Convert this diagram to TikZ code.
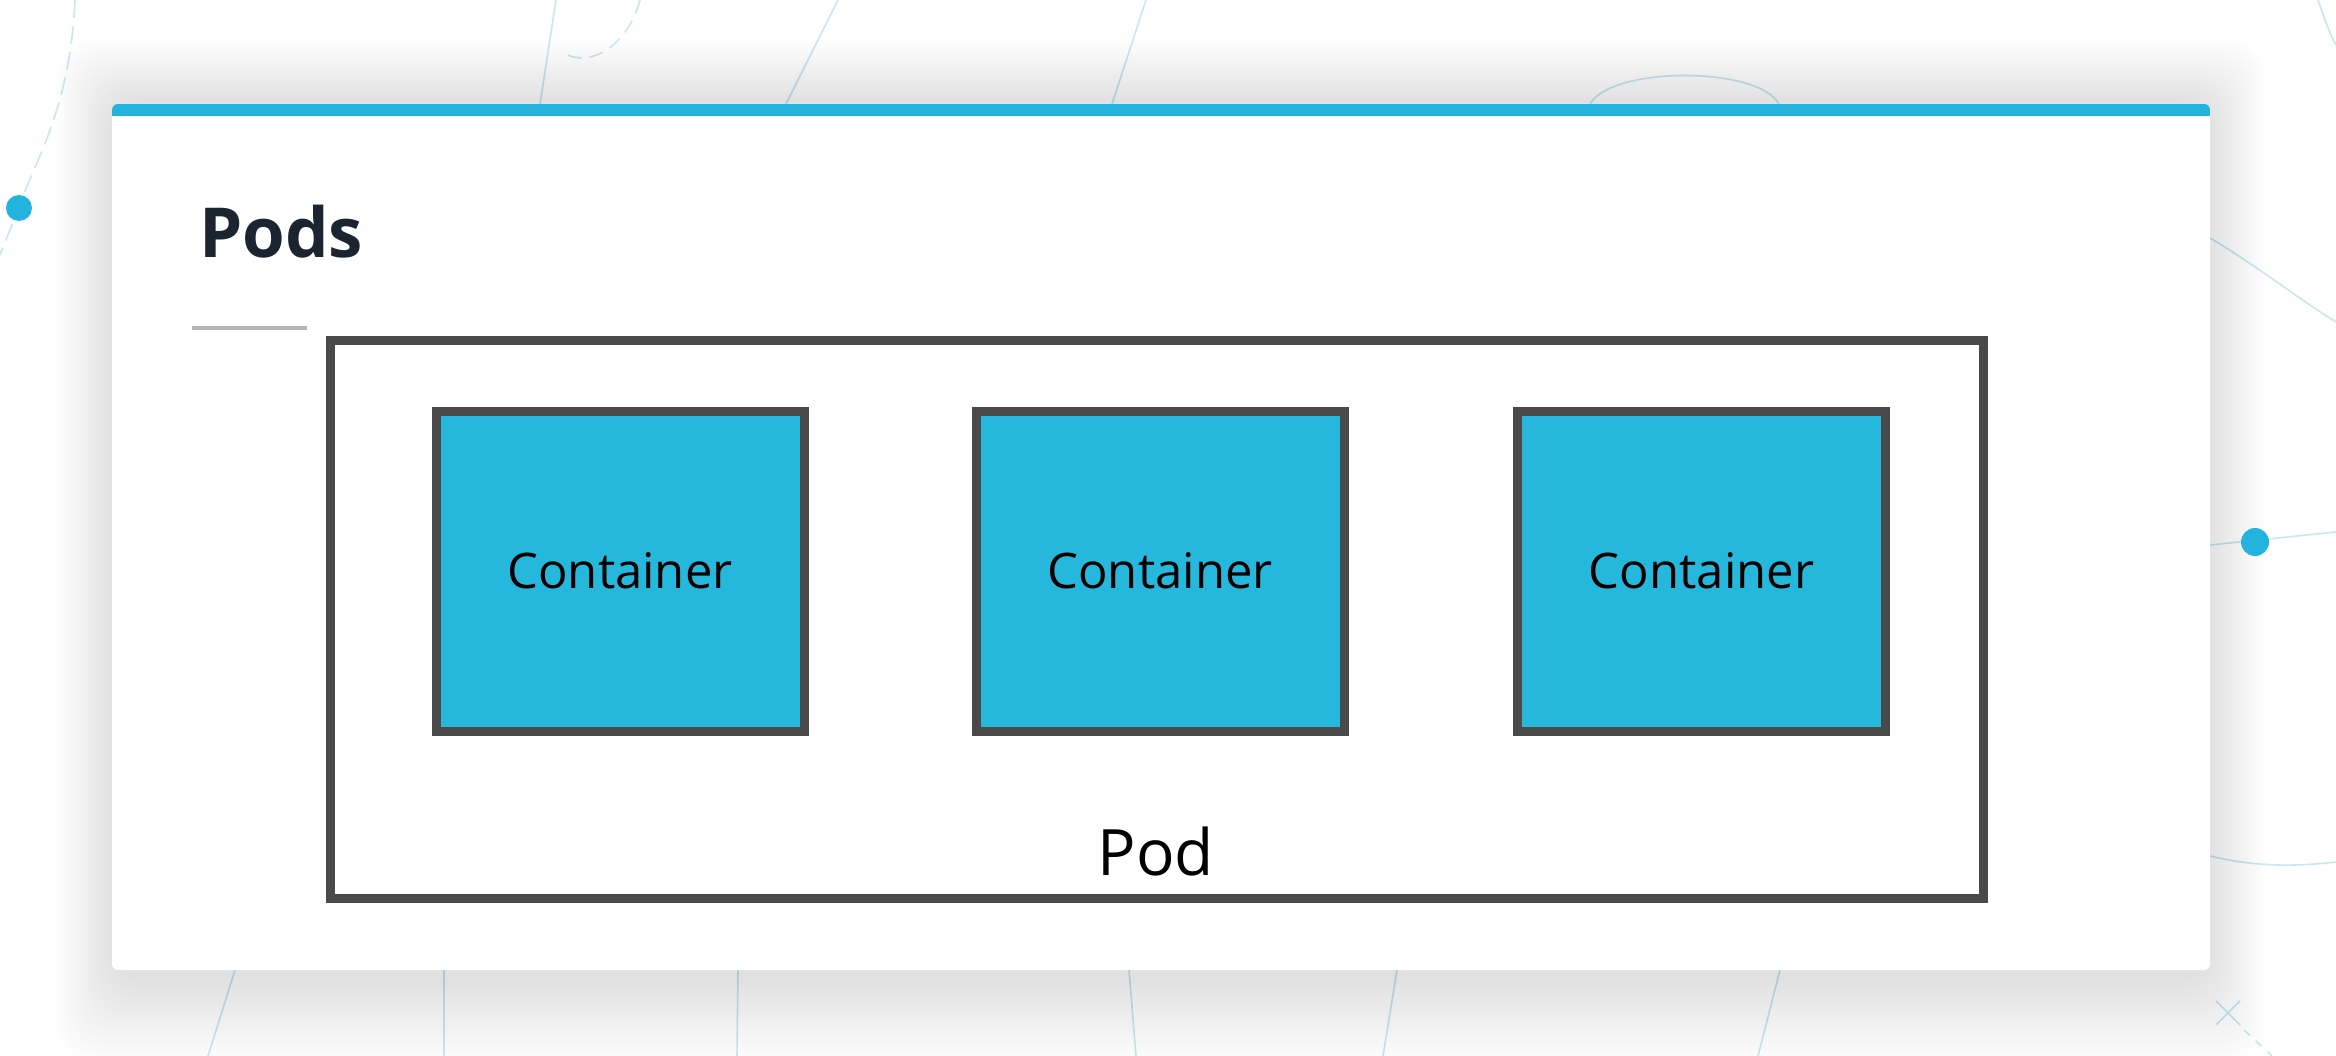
\documentclass[tikz,border=0pt]{standalone}
\usepackage{fontspec}
\setmainfont{Open Sans}
\definecolor{kblue}{HTML}{26B7DC}
\definecolor{kbar}{HTML}{22B4DE}
\definecolor{kedge}{HTML}{4A4A4A}
\definecolor{kline}{HTML}{C8E8F0}
\definecolor{ktitle}{HTML}{1C2430}
\definecolor{krule}{HTML}{B4B4B4}
\begin{document}
\begin{tikzpicture}[x=1pt,y=-1pt,
  bgline/.style={draw=kline, line width=1.6pt},
  cardbox/.style={fill=white, draw=none, rounded corners=6pt, inner sep=0pt, outer sep=0pt,
    minimum width=2098pt, minimum height=866pt, anchor=north west},
  shadowlayer/.style={fill=black, fill opacity=0.0055, draw=none, rounded corners=36pt},
  podbox/.style={draw=kedge, line width=9pt, fill=none, inner sep=0pt, outer sep=0pt,
    minimum width=1653pt, minimum height=557pt, anchor=north west},
  ctrbox/.style={draw=kedge, line width=9pt, fill=kblue, inner sep=0pt, outer sep=0pt,
    minimum width=368pt, minimum height=320pt, text=black,
    font=\fontsize{49}{58}\selectfont},
  dot/.style={fill=kbar, draw=none, circle, inner sep=0pt, minimum size=26pt}]
\useasboundingbox (0,0) rectangle (2336,1056);
\fill[white] (0,0) rectangle (2336,1056);

% faint background lines
\draw[bgline, dash pattern=on 18pt off 8pt] (75,0) .. controls (70,110) and (35,160) .. (19,207) -- (0,255);
\draw[bgline, dash pattern=on 14pt off 8pt] (640,0) .. controls (628,45) and (590,70) .. (562,52);
\draw[bgline] (556,0) -- (540,104);
\draw[bgline] (838,0) -- (786,104);
\draw[bgline] (1146,0) -- (1112,104);
\draw[bgline] (1590,104) .. controls (1612,66) and (1758,66) .. (1779,104);
\draw[bgline] (2318,0) .. controls (2325,20) and (2330,35) .. (2336,45);
\draw[bgline] (2210,238) .. controls (2260,268) and (2300,300) .. (2336,322);
\draw[bgline] (2210,545) -- (2336,532);
\draw[bgline] (2210,856) .. controls (2260,868) and (2300,866) .. (2336,862);
\draw[bgline] (235,970) -- (208,1056);
\draw[bgline] (444,970) -- (444,1056);
\draw[bgline] (738,970) -- (737,1056);
\draw[bgline] (1129,970) -- (1136,1056);
\draw[bgline] (1397,970) -- (1383,1056);
\draw[bgline] (1780,970) -- (1758,1056);
\draw[bgline] (2216,1001) -- (2240,1025);
\draw[bgline] (2240,1001) -- (2216,1025);
\draw[bgline, dash pattern=on 8pt off 8pt] (2244,1030) -- (2272,1056);

% soft shadow of the card
\foreach \i in {0,...,29} {
  \pgfmathsetmacro\r{1.9*\i}
  \fill[shadowlayer] ({112-\r},{100-1.1*\r}) rectangle ({2210+\r},{982+1.5*\r});
}

% card
\node[cardbox] (card) at (112,104) {};
\begin{scope}
  \clip[rounded corners=6pt] (112,104) rectangle (2210,970);
  \fill[kbar] (112,104) rectangle (2210,116);
\end{scope}

% dots
\node[dot] (dotL) at (19,208) {};
\node[dot, minimum size=28pt] (dotR) at (2255,542) {};

% title
\node[anchor=base west, inner sep=0pt, text=ktitle,
  font=\fontsize{69}{80}\selectfont\bfseries] (title) at (199,258) {Pods};
\draw[draw=krule, line width=4pt] (192,328) -- (307,328);

% pod
\node[podbox] (pod) at (330,341) {};
\node[ctrbox] (c1) at (620,571) {Container};
\node[ctrbox] (c2) at (1160,571) {Container};
\node[ctrbox] (c3) at (1701.5,571) {Container};
\node[anchor=base, inner sep=0pt, text=black,
  font=\fontsize{64}{76}\selectfont] (podlabel) at (1156,875) {Pod};
\end{tikzpicture}
\end{document}
